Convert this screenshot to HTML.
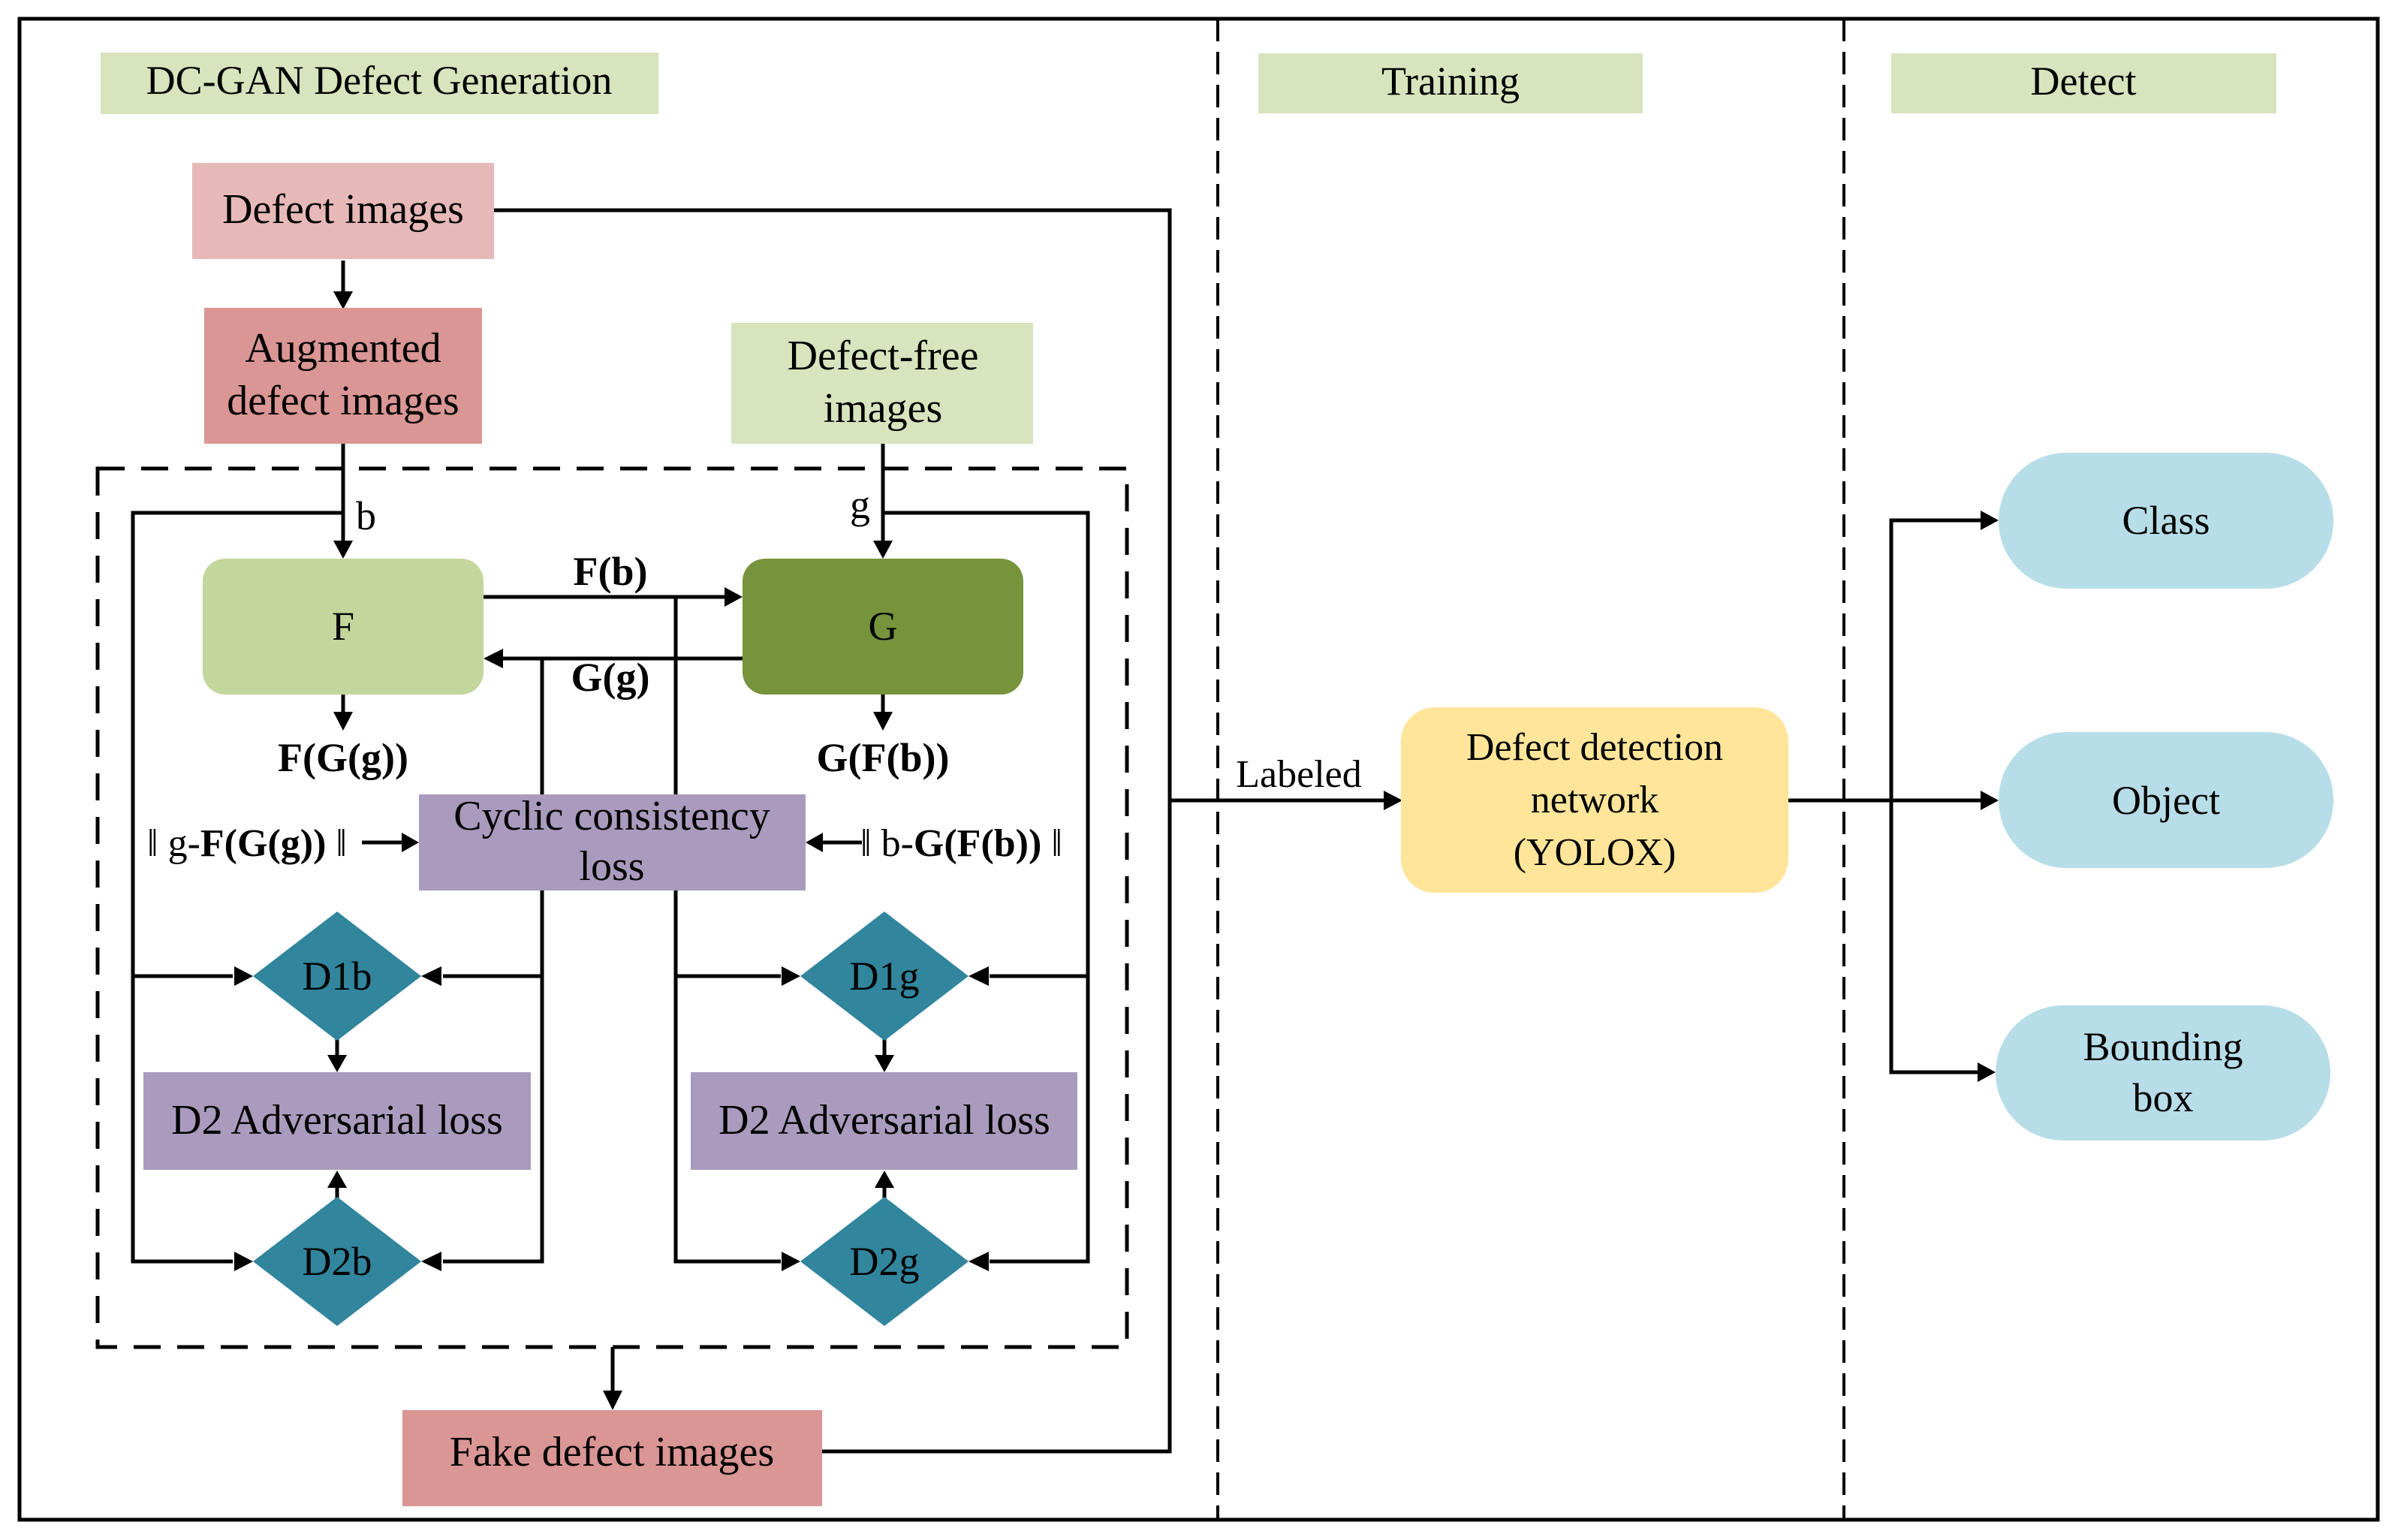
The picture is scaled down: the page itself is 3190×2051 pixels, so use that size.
<!DOCTYPE html>
<html><head><meta charset="utf-8"><style>
html,body{margin:0;padding:0;background:#fff;}
svg{display:block;}
svg text{font-family:"Liberation Serif","Times New Roman",Times,serif;fill:#000;}
</style></head><body>
<svg width="3190" height="2051" viewBox="0 0 3190 2051" xmlns="http://www.w3.org/2000/svg" font-family="'Liberation Serif', 'Times New Roman', serif">
<rect x="0" y="0" width="3190" height="2051" fill="#fff"/>
<rect x="26" y="25" width="3141" height="1999" fill="none" stroke="#000" stroke-width="5"/>
<line x1="1622" y1="25" x2="1622" y2="2024" stroke="#000" stroke-width="4" stroke-dasharray="30,14"/>
<line x1="2456" y1="25" x2="2456" y2="2024" stroke="#000" stroke-width="4" stroke-dasharray="30,14"/>

<rect x="134" y="70" width="743" height="82" fill="#d7e4bd"/>
<text x="505" y="125" font-size="54" text-anchor="middle">DC-GAN Defect Generation</text>
<rect x="1676" y="71" width="512" height="80" fill="#d7e4bd"/>
<text x="1932" y="126" font-size="54" text-anchor="middle">Training</text>
<rect x="2519" y="71" width="513" height="80" fill="#d7e4bd"/>
<text x="2775" y="126" font-size="54" text-anchor="middle">Detect</text>

<rect x="130" y="624" width="1371" height="1170" fill="none" stroke="#000" stroke-width="5" stroke-dasharray="36,22"/>

<g stroke="#000" stroke-width="5" fill="none">
<polyline points="658,280 1558,280 1558,1933 1095,1933"/>
<line x1="1558" y1="1066" x2="1845" y2="1066"/>
<line x1="457" y1="347" x2="457" y2="388"/>
<line x1="457" y1="591" x2="457" y2="720"/>
<line x1="1176" y1="591" x2="1176" y2="720"/>
<polyline points="457,683 177,683 177,1680 310,1680"/>
<line x1="177" y1="1300" x2="310" y2="1300"/>
<polyline points="1176,683 1449,683 1449,1680 1318,1680"/>
<line x1="1449" y1="1300" x2="1318" y2="1300"/>
<line x1="644" y1="795" x2="965" y2="795"/>
<polyline points="900,795 900,1680 1040,1680"/>
<line x1="900" y1="1300" x2="1040" y2="1300"/>
<line x1="989" y1="877" x2="670" y2="877"/>
<polyline points="722,877 722,1680 590,1680"/>
<line x1="722" y1="1300" x2="590" y2="1300"/>
<line x1="457" y1="925" x2="457" y2="950"/>
<line x1="1176" y1="925" x2="1176" y2="950"/>
<line x1="482" y1="1122" x2="535" y2="1122"/>
<line x1="1148" y1="1122" x2="1096" y2="1122"/>
<line x1="449" y1="1383" x2="449" y2="1405"/>
<line x1="1178" y1="1383" x2="1178" y2="1405"/>
<line x1="449" y1="1598" x2="449" y2="1580"/>
<line x1="1178" y1="1598" x2="1178" y2="1580"/>
<line x1="816" y1="1794" x2="816" y2="1852"/>
<line x1="2382" y1="1066" x2="2640" y2="1066"/>
<polyline points="2640,693 2519,693 2519,1428 2636,1428"/>
</g>

<g fill="#000">
<polygon points="444,388 470,388 457,412"/>
<polygon points="444,720 470,720 457,744"/>
<polygon points="1163,720 1189,720 1176,744"/>
<polygon points="444,948 470,948 457,973"/>
<polygon points="1163,948 1189,948 1176,973"/>
<polygon points="965,782 965,808 989,795"/>
<polygon points="670,864 670,890 644,877"/>
<polygon points="535,1109 535,1135 558,1122"/>
<polygon points="1096,1109 1096,1135 1073,1122"/>
<polygon points="312,1287 312,1313 337,1300"/>
<polygon points="588,1287 588,1313 561,1300"/>
<polygon points="1041,1287 1041,1313 1066,1300"/>
<polygon points="1317,1287 1317,1313 1290,1300"/>
<polygon points="312,1667 312,1693 337,1680"/>
<polygon points="588,1667 588,1693 561,1680"/>
<polygon points="1041,1667 1041,1693 1066,1680"/>
<polygon points="1317,1667 1317,1693 1290,1680"/>
<polygon points="436,1405 462,1405 449,1428"/>
<polygon points="1165,1405 1191,1405 1178,1428"/>
<polygon points="436,1582 462,1582 449,1559"/>
<polygon points="1165,1582 1191,1582 1178,1559"/>
<polygon points="803,1852 829,1852 816,1878"/>
<polygon points="1843,1053 1843,1079 1868,1066"/>
<polygon points="2638,680 2638,706 2662,693"/>
<polygon points="2638,1053 2638,1079 2662,1066"/>
<polygon points="2634,1415 2634,1441 2658,1428"/>
</g>

<rect x="256" y="217" width="402" height="128" fill="#e6b9b8"/>
<text x="457" y="297" font-size="56" text-anchor="middle">Defect images</text>
<rect x="272" y="410" width="370" height="181" fill="#d99694"/>
<text x="457" y="482" font-size="56" text-anchor="middle">Augmented</text>
<text x="457" y="552" font-size="56" text-anchor="middle">defect images</text>
<rect x="974" y="430" width="402" height="161" fill="#d7e4bd"/>
<text x="1176" y="492" font-size="56" text-anchor="middle">Defect-free</text>
<text x="1176" y="562" font-size="56" text-anchor="middle">images</text>

<rect x="270" y="744" width="374" height="181" rx="30" fill="#c3d69b"/>
<text x="457" y="852" font-size="54" text-anchor="middle">F</text>
<rect x="989" y="744" width="374" height="181" rx="30" fill="#77933c"/>
<text x="1176" y="852" font-size="54" text-anchor="middle">G</text>

<text x="474" y="705" font-size="54">b</text>
<text x="1132" y="690" font-size="54">g</text>
<text x="813" y="779" font-size="54" font-weight="bold" text-anchor="middle">F(b)</text>
<text x="813" y="920" font-size="54" font-weight="bold" text-anchor="middle">G(g)</text>
<text x="457" y="1027" font-size="54" font-weight="bold" text-anchor="middle">F(G(g))</text>
<text x="1176" y="1027" font-size="54" font-weight="bold" text-anchor="middle">G(F(b))</text>

<rect x="558" y="1058" width="515" height="128" fill="#a99bbd"/>
<text x="815" y="1105" font-size="56" text-anchor="middle">Cyclic consistency</text>
<text x="815" y="1172" font-size="56" text-anchor="middle">loss</text>
<text x="196" y="1140" font-size="52">‖ g-<tspan font-weight="bold">F(G(g))</tspan> ‖</text>
<text x="1146" y="1140" font-size="52">‖ b-<tspan font-weight="bold">G(F(b))</tspan> ‖</text>

<g fill="#31859c">
<polygon points="449,1214 561,1300 449,1386 337,1300"/>
<polygon points="1178,1214 1290,1300 1178,1386 1066,1300"/>
<polygon points="449,1594 561,1680 449,1766 337,1680"/>
<polygon points="1178,1594 1290,1680 1178,1766 1066,1680"/>
</g>
<text x="449" y="1318" font-size="54" text-anchor="middle">D1b</text>
<text x="1178" y="1318" font-size="54" text-anchor="middle">D1g</text>
<text x="449" y="1698" font-size="54" text-anchor="middle">D2b</text>
<text x="1178" y="1698" font-size="54" text-anchor="middle">D2g</text>

<rect x="191" y="1428" width="516" height="130" fill="#a99bbd"/>
<text x="449" y="1510" font-size="56" text-anchor="middle">D2 Adversarial loss</text>
<rect x="920" y="1428" width="515" height="130" fill="#a99bbd"/>
<text x="1178" y="1510" font-size="56" text-anchor="middle">D2 Adversarial loss</text>

<rect x="536" y="1878" width="559" height="128" fill="#d99694"/>
<text x="815" y="1952" font-size="56" text-anchor="middle">Fake defect images</text>

<text x="1730" y="1048" font-size="52" text-anchor="middle">Labeled</text>
<rect x="1866" y="942" width="516" height="247" rx="45" fill="#fee599"/>
<text x="2124" y="1012" font-size="52" text-anchor="middle">Defect detection</text>
<text x="2124" y="1082" font-size="52" text-anchor="middle">network</text>
<text x="2124" y="1152" font-size="52" text-anchor="middle">(YOLOX)</text>

<rect x="2662" y="603" width="446" height="181" rx="90" fill="#b7dde8"/>
<text x="2885" y="711" font-size="54" text-anchor="middle">Class</text>
<rect x="2662" y="975" width="446" height="181" rx="90" fill="#b7dde8"/>
<text x="2885" y="1084" font-size="54" text-anchor="middle">Object</text>
<rect x="2658" y="1339" width="446" height="180" rx="90" fill="#b7dde8"/>
<text x="2881" y="1412" font-size="54" text-anchor="middle">Bounding</text>
<text x="2881" y="1480" font-size="54" text-anchor="middle">box</text>
</svg>
</body></html>
